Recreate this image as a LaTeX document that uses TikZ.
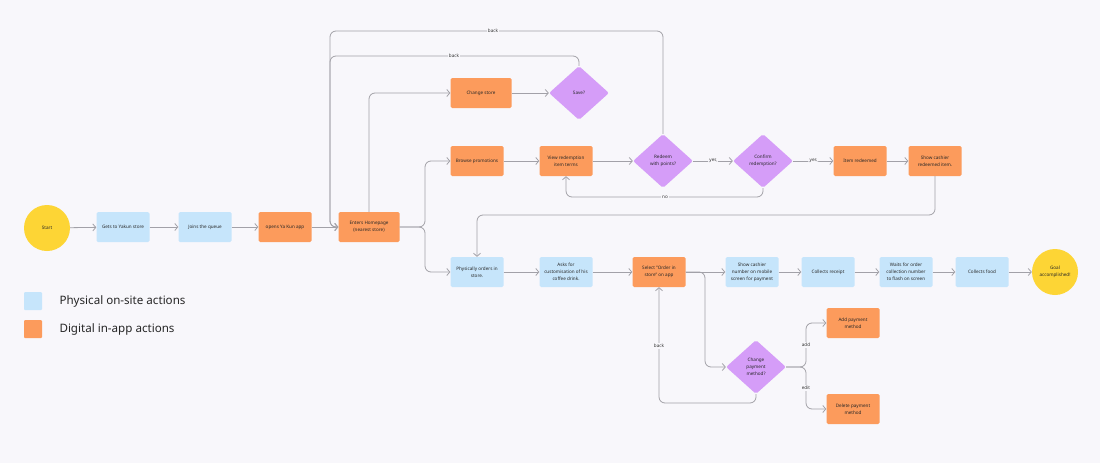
\documentclass[tikz,border=0pt]{standalone}
\usepackage{fontspec}
\setmainfont{Noto Sans}
\usetikzlibrary{shapes.geometric,arrows.meta}
\definecolor{bgc}{HTML}{F8F7FB}
\definecolor{physc}{HTML}{C6E5FB}
\definecolor{digc}{HTML}{FC9B5C}
\definecolor{decc}{HTML}{D59DF8}
\definecolor{termc}{HTML}{FDD535}
\definecolor{linec}{HTML}{A2A1A8}
\tikzset{
  boxbase/.style={rectangle, rounded corners=1.5pt, minimum width=53pt, minimum height=30pt, inner sep=0pt, align=center, font=\fontsize{4.6}{7}\selectfont, text=black!85},
  physbox/.style={boxbase, fill=physc},
  digbox/.style={boxbase, fill=digc},
  decbox/.style={diamond, fill=decc, minimum width=60pt, minimum height=54pt, inner sep=0pt, align=center, rounded corners=2pt, font=\fontsize{4.6}{7}\selectfont, text=black!85},
  termbox/.style={circle, fill=termc, minimum size=46pt, inner sep=0pt, align=center, font=\fontsize{4.6}{7}\selectfont, text=black!85},
  edge/.style={draw=linec, line width=0.8pt, rounded corners=6pt, -{Straight Barb[length=3pt,width=7pt,line width=0.8pt]}},
  elabel/.style={fill=bgc, inner sep=1.2pt, font=\fontsize{4.6}{6}\selectfont, text=black!80},
  legtext/.style={anchor=west, font=\fontsize{11.6}{14}\selectfont, text=black!85},
  legsq/.style={rectangle, rounded corners=1pt, minimum size=18pt, inner sep=0pt}
}
\begin{document}
\begin{tikzpicture}[x=1pt,y=-1pt]
\useasboundingbox (0,0) rectangle (1100,463);
\fill[bgc] (0,0) rectangle (1100,463);

% legend
\node[legsq, fill=physc] (lphys) at (33,301) {};
\node[legtext] (lphyst) at (56,301) {Physical on-site actions};
\node[legsq, fill=digc] (ldig) at (33,329) {};
\node[legtext] (ldigt) at (56,329) {Digital in-app actions};

% main row
\node[termbox] (start) at (47,228) {Start};
\node[physbox] (gets) at (123,227) {Gets to Yakun store};
\node[physbox] (queue) at (205,227) {Joins the queue};
\node[digbox] (opens) at (285,227) {opens Ya Kun app};
\node[digbox, minimum width=61pt] (home) at (369,227) {Enters Homepage\\(nearest store)};

% top
\node[digbox, minimum width=61pt] (change) at (481,93) {Change store};
\node[decbox] (save) at (579,93) {Save?};

% promotions row
\node[digbox] (browse) at (477,161) {Browse promotions};
\node[digbox] (view) at (566,161) {View redemption\\item terms};
\node[decbox] (redeem) at (663,161) {Redeem\\with points?};
\node[decbox] (confirm) at (763,161) {Confirm\\redemption?};
\node[digbox] (item) at (860,161) {Item redeemed};
\node[digbox] (show) at (935,161) {Show cashier\\redeemed item.};

% order row
\node[physbox] (phys) at (477,272) {Physically orders in\\store.};
\node[physbox] (asks) at (566,272) {Asks for\\customisation of his\\coffee drink.};
\node[digbox] (select) at (659,272) {Select "Order in\\store" on app};
\node[physbox] (cashnum) at (752,272) {Show cashier\\number on mobile\\screen for payment};
\node[physbox] (receipt) at (828,272) {Collects receipt};
\node[physbox] (waits) at (906,272) {Waits for order\\collection number\\to flash on screen};
\node[physbox] (food) at (982,272) {Collects food};
\node[termbox] (goal) at (1055,272) {Goal\\accomplished!};

% payment
\node[decbox] (chpay) at (756,367) {Change\\payment\\method?};
\node[digbox] (add) at (853,323) {Add payment\\method};
\node[digbox] (delete) at (853,409) {Delete payment\\method};

% helper coordinates
\coordinate (backa) at (330,31);
\coordinate (backb) at (330,56);
\coordinate (split1) at (425,227);
\coordinate (nobend) at (763,197);
\coordinate (showdown) at (935,215);
\coordinate (split2) at (705,272);
\coordinate (split3) at (806,367);
\coordinate (backc) at (659,403);

% edges main row
\draw[edge] (start) -- (gets);
\draw[edge] (gets) -- (queue);
\draw[edge] (queue) -- (opens);
\draw[edge] (opens) -- (home);
\draw[edge] (home.north) |- (change.west);
\draw[edge] (change) -- (save);
\draw[edge] (save.north) |- (backb) |- (home.west);
\draw[edge] (redeem.north) |- (backa) |- (home.west);
\node[elabel] (lback1) at (493,31) {back};
\node[elabel] (lback2) at (454,56) {back};

\draw[edge] (home.east) -- (split1) |- (browse.west);
\draw[edge] (home.east) -- (split1) |- (phys.west);

\draw[edge] (browse) -- (view);
\draw[edge] (view) -- (redeem);
\draw[edge] (redeem) -- node[elabel] (lyes1) {yes} (confirm);
\draw[edge] (confirm) -- node[elabel] (lyes2) {yes} (item);
\draw[edge] (item) -- (show);
\draw[edge] (confirm.south) -- (nobend) -| (view.south);
\node[elabel] (lno) at (665,197) {no};
\draw[edge] (show.south) -- (showdown) -| (phys.north);

\draw[edge] (phys) -- (asks);
\draw[edge] (asks) -- (select);
\draw[edge] (select) -- (cashnum);
\draw[edge] (cashnum) -- (receipt);
\draw[edge] (receipt) -- (waits);
\draw[edge] (waits) -- (food);
\draw[edge] (food) -- (goal);

\draw[edge] (select.east) -- (split2) |- (chpay.west);
\draw[edge] (chpay.east) -- (split3) |- (add.west);
\draw[edge] (chpay.east) -- (split3) |- (delete.west);
\node[elabel] (ladd) at (806,345) {add};
\node[elabel] (ledit) at (806,388) {edit};
\draw[edge] (chpay.south) |- (backc) -- (select.south);
\node[elabel] (lback3) at (659,346) {back};
\end{tikzpicture}
\end{document}
